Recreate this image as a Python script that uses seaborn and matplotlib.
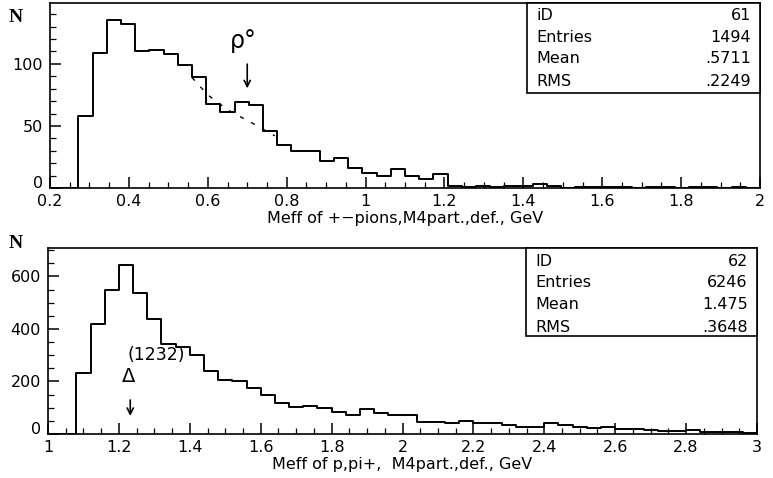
import numpy as np
import pandas as pd
import matplotlib
matplotlib.use("Agg")
import matplotlib.pyplot as plt
import seaborn as sns
from matplotlib.patches import Rectangle
from matplotlib.ticker import MultipleLocator
from matplotlib.transforms import ScaledTranslation

# ---------------- data ----------------
top_edges_range = (0.2, 2.0)
top_nbins = 50
top_counts = [0, 0, 58, 109, 135, 132, 110, 111, 108, 99, 89, 68,
              61, 69, 67, 46, 35, 30, 30, 22, 24, 16,
              12, 10, 15, 10, 7, 11,
              2, 1, 2, 1, 2, 2, 3, 2, 0, 1, 1, 1, 1, 0, 1, 1, 0, 1, 1, 0, 1, 0]
top_fit_x = [0.56, 0.60, 0.65, 0.72, 0.77]
top_fit_y = [89, 75, 63, 51, 42]
top_stats_labels = ["iD", "Entries", "Mean", "RMS"]
top_stats_values = ["61", "1494", ".5711", ".2249"]
top_xticks = [0.2, 0.4, 0.6, 0.8, 1.0, 1.2, 1.4, 1.6, 1.8, 2.0]
top_xticklabels = ["0.2", "0.4", "0.6", "0.8", "1", "1.2", "1.4", "1.6", "1.8", "2"]
top_yticks = [0, 50, 100]
top_xlabel = "Meff of +\u2212pions,M4part.,def., GeV"

bot_edges_range = (1.0, 3.0)
bot_nbins = 50
bot_counts = [0, 0, 234, 418, 550, 642, 537, 439, 343, 333, 302, 240,
              206, 200, 174, 149, 117, 104, 107, 100, 85, 73,
              94, 81, 72, 72,
              47, 45, 41, 51, 43, 41, 34, 28, 27, 43,
              34, 28, 22, 25, 18, 18, 15, 11, 13, 15,
              9, 6, 6, 5]
bot_stats_labels = ["ID", "Entries", "Mean", "RMS"]
bot_stats_values = ["62", "6246", "1.475", ".3648"]
bot_xticks = [1.0, 1.2, 1.4, 1.6, 1.8, 2.0, 2.2, 2.4, 2.6, 2.8, 3.0]
bot_xticklabels = ["1", "1.2", "1.4", "1.6", "1.8", "2", "2.2", "2.4", "2.6", "2.8", "3"]
bot_yticks = [0, 200, 400, 600]
bot_xlabel = "Meff of p,pi+,  M4part.,def., GeV"

# ---------------- style ----------------
sns.set_style("white")
plt.rcParams['font.family'] = ['DejaVu Sans']
plt.rcParams['font.size'] = 11
plt.rcParams['text.color'] = 'black'
plt.rcParams['axes.labelcolor'] = 'black'
plt.rcParams['xtick.color'] = 'black'
plt.rcParams['ytick.color'] = 'black'

fig = plt.figure(figsize=(7.73, 4.78), dpi=100)
ax_top = fig.add_axes([50/773, 1-188/478, 710/773, 185/478])
ax_bot = fig.add_axes([48/773, 1-434/478, 709/773, 186/478])

TXT = 11.5


def draw_hist(ax, rng, nbins, counts, ylim, yticks, yminor, xticks, xticklabels, xlabel):
    width = (rng[1] - rng[0]) / nbins
    centers = rng[0] + width * (np.arange(nbins) + 0.5)
    df = pd.DataFrame({"x": centers, "n": np.asarray(counts, dtype=float)})
    sns.histplot(data=df, x="x", weights="n", binwidth=width, binrange=rng,
                 element="step", fill=False, color="black", linewidth=1.4, ax=ax)
    ax.set_xlim(rng)
    ax.set_ylim(ylim)
    ax.set_xticks(xticks)
    ax.set_xticklabels(xticklabels)
    ax.set_yticks(yticks)
    ax.set_yticklabels([str(t) for t in yticks])
    ax.xaxis.set_minor_locator(MultipleLocator(0.05))
    ax.yaxis.set_minor_locator(MultipleLocator(yminor))
    ax.tick_params(which="both", bottom=True, left=True, top=False, right=False,
                   direction="in", colors="black", labelcolor="black")
    ax.tick_params(which="major", length=8, width=1.1, labelsize=TXT, pad=4)
    ax.tick_params(which="minor", length=4, width=0.9)
    ax.tick_params(axis="y", which="major", pad=5)
    ax.set_xlabel(xlabel, fontsize=TXT, labelpad=2, color="black")
    ax.set_ylabel("")
    for s in ax.spines.values():
        s.set_color("black")
        s.set_linewidth(1.2)
    # lift the "0" y label slightly so it clears the first x label
    lab0 = ax.get_yticklabels()[0]
    lab0.set_transform(lab0.get_transform() + ScaledTranslation(0, 4/72, fig.dpi_scale_trans))


draw_hist(ax_top, top_edges_range, top_nbins, top_counts, (0, 149), top_yticks, 10,
          top_xticks, top_xticklabels, top_xlabel)
draw_hist(ax_bot, bot_edges_range, bot_nbins, bot_counts, (0, 708), bot_yticks, 50,
          bot_xticks, bot_xticklabels, bot_xlabel)

# fit curve (dashed) on top plot
sns.lineplot(x=top_fit_x, y=top_fit_y, ax=ax_top, color="black",
             linestyle=(0, (3, 6)), linewidth=1.0)


def stat_box(ax, left, bottom, ys, labels, values):
    ax.add_patch(Rectangle((left, bottom), 1 - left, 1 - bottom, transform=ax.transAxes,
                           facecolor="white", edgecolor="black", linewidth=1.2,
                           zorder=5, clip_on=False))
    for y, lab, val in zip(ys, labels, values):
        ax.text(left + 0.013, y, lab, transform=ax.transAxes, ha="left", va="center",
                fontsize=TXT, zorder=6)
        ax.text(0.987, y, val, transform=ax.transAxes, ha="right", va="center",
                fontsize=TXT, zorder=6)


stat_box(ax_top, 0.672, 0.514, [0.935, 0.815, 0.698, 0.578], top_stats_labels, top_stats_values)
stat_box(ax_bot, 0.674, 0.527, [0.925, 0.812, 0.697, 0.575], bot_stats_labels, bot_stats_values)

# annotations
ax_top.text(0.69, 118, "\u03c1\u00b0", fontsize=17, ha="center", va="center")
ax_top.annotate("", xy=(0.70, 78), xytext=(0.70, 102),
                arrowprops=dict(arrowstyle="->", color="black", lw=1.2))
ax_bot.text(1.305, 301, "(1232)", fontsize=12.5, ha="center", va="center")
ax_bot.text(1.228, 218, "\u0394", fontsize=14, ha="center", va="center")
ax_bot.annotate("", xy=(1.232, 58), xytext=(1.232, 140),
                arrowprops=dict(arrowstyle="->", color="black", lw=1.2))

# "N" axis titles
fig.text(16/773, 1-17/478, "N", fontsize=14, ha="center", va="center",
         family=["Liberation Serif", "DejaVu Serif"], fontweight="bold")
fig.text(16/773, 1-244/478, "N", fontsize=14, ha="center", va="center",
         family=["Liberation Serif", "DejaVu Serif"], fontweight="bold")

fig.savefig("out.png", dpi=100, facecolor="white")
